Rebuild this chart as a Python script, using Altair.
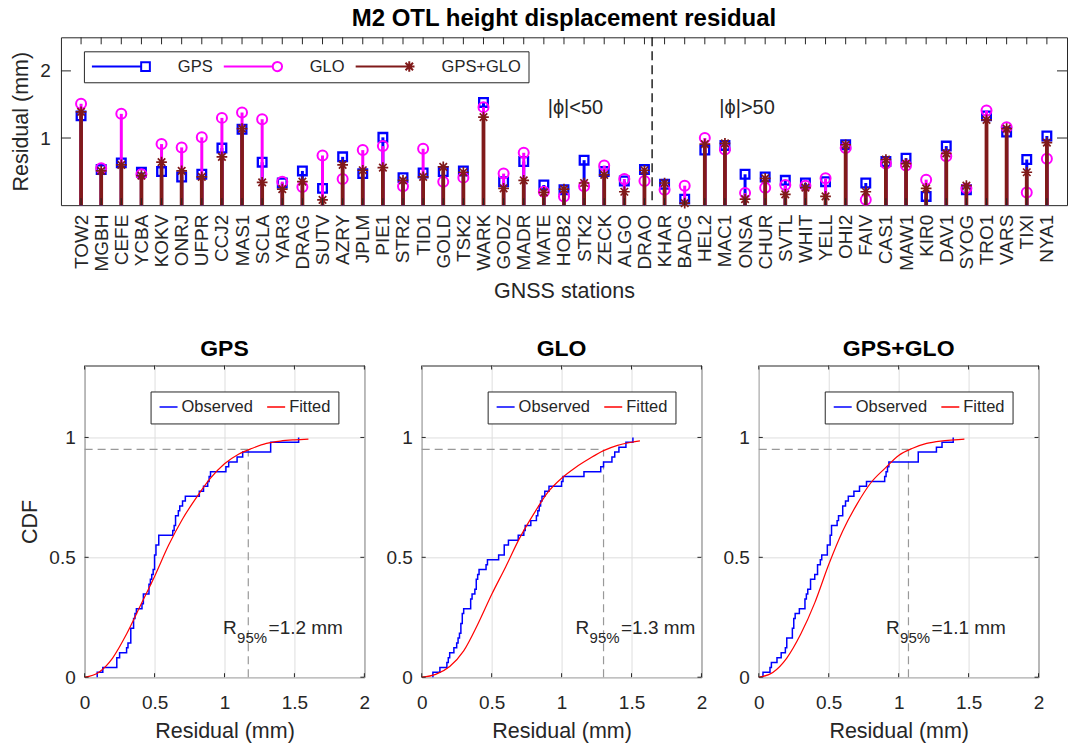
import altair as alt
import pandas as pd

# ---------------- data ----------------
STATIONS = ["TOW2", "MGBH", "CEFE", "YCBA", "KOKV", "ONRJ", "UFPR", "CCJ2", "MAS1", "SCLA",
            "YAR3", "DRAG", "SUTV", "AZRY", "JPLM", "PIE1", "STR2", "TID1", "GOLD", "TSK2",
            "WARK", "GODZ", "MADR", "MATE", "HOB2", "STK2", "ZECK", "ALGO", "DRAO", "KHAR",
            "BADG", "HEL2", "MAC1", "ONSA", "CHUR", "SVTL", "WHIT", "YELL", "OHI2", "FAIV",
            "CAS1", "MAW1", "KIR0", "DAV1", "SYOG", "TRO1", "VARS", "TIXI", "NYA1"]

GPS = [1.33, 0.53, 0.63, 0.49, 0.50, 0.42, 0.46, 0.85, 1.13, 0.64,
       0.33, 0.51, 0.25, 0.72, 0.47, 1.01, 0.41, 0.48, 0.50, 0.51,
       1.53, 0.35, 0.65, 0.30, 0.23, 0.67, 0.50, 0.36, 0.53, 0.31,
       0.09, 0.82, 0.89, 0.46, 0.42, 0.37, 0.33, 0.35, 0.90, 0.33,
       0.65, 0.70, 0.13, 0.88, 0.23, 1.33, 1.09, 0.68, 1.03]
GLO = [1.51, 0.55, 1.36, 0.46, 0.91, 0.86, 1.01, 1.30, 1.38, 1.28,
       0.35, 0.27, 0.74, 0.39, 0.82, 0.88, 0.28, 0.84, 0.35, 0.41,
       1.46, 0.47, 0.78, 0.20, 0.13, 0.28, 0.59, 0.39, 0.36, 0.23,
       0.29, 1.00, 0.83, 0.18, 0.26, 0.30, 0.29, 0.40, 0.85, 0.08,
       0.62, 0.59, 0.38, 0.73, 0.25, 1.41, 1.16, 0.19, 0.69]
GPS_GLO = [1.39, 0.51, 0.60, 0.44, 0.64, 0.51, 0.42, 0.72, 1.14, 0.34,
           0.24, 0.35, 0.08, 0.60, 0.52, 0.56, 0.37, 0.42, 0.57, 0.49,
           1.31, 0.25, 0.37, 0.19, 0.24, 0.33, 0.45, 0.20, 0.52, 0.33,
           0.03, 0.91, 0.92, 0.09, 0.40, 0.16, 0.26, 0.13, 0.90, 0.20,
           0.68, 0.62, 0.25, 0.77, 0.29, 1.27, 1.14, 0.49, 0.93]

SERIES = ["GPS", "GLO", "GPS+GLO"]

# fitted CDF curves
GPS_FIT_X = [0, 0.1, 0.2, 0.3, 0.4, 0.5, 0.6, 0.7, 0.8, 0.9, 1.0, 1.1, 1.2, 1.3, 1.4, 1.5, 1.6]
GPS_FIT_Y = [0, 0.02, 0.08, 0.18, 0.30, 0.42, 0.55, 0.66, 0.75, 0.83, 0.89, 0.93, 0.955, 0.975, 0.985, 0.99, 0.993]
GLO_FIT_X = [0, 0.1, 0.2, 0.3, 0.4, 0.5, 0.6, 0.7, 0.8, 0.9, 1.0, 1.1, 1.2, 1.3, 1.4, 1.5, 1.56]
GLO_FIT_Y = [0, 0.012, 0.045, 0.11, 0.22, 0.345, 0.46, 0.58, 0.68, 0.77, 0.83, 0.875, 0.912, 0.945, 0.967, 0.98, 0.986]
GG_FIT_X = [0, 0.1, 0.2, 0.3, 0.4, 0.5, 0.6, 0.7, 0.8, 0.9, 1.0, 1.1, 1.2, 1.3, 1.4, 1.47]
GG_FIT_Y = [0, 0.02, 0.08, 0.18, 0.31, 0.47, 0.61, 0.72, 0.81, 0.87, 0.925, 0.955, 0.975, 0.985, 0.99, 0.993]

R95 = [1.17, 1.30, 1.07]
R95_TEXT = ["=1.2 mm", "=1.3 mm", "=1.1 mm"]

# annotation anchors (data units)
SPLIT_X = 29.38
PHI_TEXT = ["|\u03d5|<50", "|\u03d5|>50"]
PHI_X = [25.57, 34.1]
PHI_Y = 1.44
R_TEXT_X = [0.99, 1.10, 0.91]
R_TEXT_Y = 0.18

# ---------------- styling ----------------
FONT = "Liberation Sans"
AX = "#262626"
COLORS = ["#0000FF", "#FF00FF", "#801A1A"]
W_TOP, H_TOP = 1007, 168
W_B, H_B = 280, 312

ASTERISK = "M0,-1L0,1M-1,0L1,0M-0.7,-0.7L0.7,0.7M-0.7,0.7L0.7,-0.7"
LEG_PATHS = [
    "M-1,0L0.7,0M0.7,-0.15L1,-0.15L1,0.15L0.7,0.15Z",
    "M-1,0L0.69,0M0.69,0A0.16,0.16,0,1,1,1.01,0A0.16,0.16,0,1,1,0.69,0Z",
    "M-1,0L0.85,0M0.85,-0.18L0.85,0.18M0.67,0L1.03,0M0.72,-0.13L0.98,0.13M0.72,0.13L0.98,-0.13",
]

rows = []
for name, vals in zip(SERIES, [GPS, GLO, GPS_GLO]):
    for i, (st, v) in enumerate(zip(STATIONS, vals)):
        rows.append({"idx": i + 1, "station": st, "series": name, "value": v})
df = pd.DataFrame(rows)
st_df = pd.DataFrame({"idx": list(range(1, len(STATIONS) + 1)), "station": STATIONS})
one = pd.DataFrame({"k": [0]})

label_expr = "[" + ",".join(["''"] + ["'%s'" % s for s in STATIONS]) + "][datum.value]"

# ---------------- top panel ----------------
xs_top = alt.Scale(domain=[0, len(STATIONS) + 1], nice=False, zero=False)
xa_top = alt.Axis(values=list(range(1, len(STATIONS) + 1)), labelExpr=label_expr, labelAngle=270,
                  labelFontSize=19, labelPadding=9, labelColor=AX, labelFont=FONT,
                  labelOverlap=False, labelFlush=False, ticks=False, tickSize=0,
                  domain=False, grid=False, title="GNSS stations", titleFontSize=21.5,
                  titleFontWeight="normal", titleColor=AX, titleFont=FONT, titlePadding=9)
X_TOP = alt.X("idx:Q", scale=xs_top, axis=xa_top)
ys_top = alt.Scale(domain=[0, 2.5], nice=False, zero=False)
ya_top = alt.Axis(values=[1, 2], labelFontSize=19, labelPadding=10.7, labelColor=AX, labelFont=FONT,
                  ticks=False, tickSize=0, domain=False, grid=False, title="Residual (mm)",
                  titleFontSize=21.5, titleFontWeight="normal", titleColor=AX, titleFont=FONT,
                  titlePadding=7.2)
Y_TOP = alt.Y("value:Q", scale=ys_top, axis=ya_top)

top_layers = []
top_layers.append(
    alt.Chart(one).mark_rule(color="black", strokeWidth=1.3, strokeDash=[9, 5]).encode(
        x=alt.XDatum(SPLIT_X, type="quantitative", scale=xs_top, axis=xa_top),
        y=alt.value(0), y2=alt.value(H_TOP)))
phi_df = pd.DataFrame({"idx": PHI_X, "value": [PHI_Y, PHI_Y], "txt": PHI_TEXT})
top_layers.append(
    alt.Chart(phi_df).mark_text(fontSize=20, font=FONT, color=AX, align="center", baseline="middle").encode(
        x=X_TOP, y=Y_TOP, text="txt:N"))

marker_specs = [("square", 75, 2.3, 3.0), ("circle", 100, 2.0, 3.0), (ASTERISK, 115, 1.7, 3.8)]
for name, col, (shape, size, sw, stem_w) in zip(SERIES, COLORS, marker_specs):
    base = alt.Chart(df).transform_filter(alt.datum.series == name)
    top_layers.append(base.mark_rule(color=col, strokeWidth=stem_w).encode(
        x=X_TOP, y=Y_TOP, y2=alt.datum(0)))
    top_layers.append(base.mark_point(shape=shape, filled=False, color=col, strokeWidth=sw,
                                      size=size, opacity=1).encode(x=X_TOP, y=Y_TOP))

# inward ticks
yt_df = pd.DataFrame({"value": [1, 2]})
top_layers.append(alt.Chart(st_df).mark_rule(color=AX, strokeWidth=1).encode(
    x=X_TOP, y=alt.value(0), y2=alt.value(7)))
top_layers.append(alt.Chart(st_df).mark_rule(color=AX, strokeWidth=1).encode(
    x=X_TOP, y=alt.value(H_TOP), y2=alt.value(H_TOP - 7)))
top_layers.append(alt.Chart(yt_df).mark_rule(color=AX, strokeWidth=1).encode(
    y=Y_TOP, x=alt.value(0), x2=alt.value(10)))
top_layers.append(alt.Chart(yt_df).mark_rule(color=AX, strokeWidth=1).encode(
    y=Y_TOP, x=alt.value(W_TOP), x2=alt.value(W_TOP - 10)))

top_legend = alt.Legend(title=None, orient="none", legendX=23, legendY=14, direction="horizontal",
                        strokeColor=AX, fillColor="white", padding=7, labelFontSize=16.5,
                        labelFont=FONT, labelColor=AX, symbolSize=3364, symbolStrokeWidth=2,
                        clipHeight=16, columnPadding=10, labelOffset=27, symbolOpacity=1)
top_layers.append(
    alt.Chart(df).transform_filter("datum.idx < 0").mark_point(filled=False, opacity=1, strokeWidth=2,
                                                               size=3364).encode(
        x=X_TOP, y=Y_TOP,
        color=alt.Color("series:N", scale=alt.Scale(domain=SERIES, range=COLORS), legend=top_legend),
        shape=alt.Shape("series:N", scale=alt.Scale(domain=SERIES, range=LEG_PATHS), legend=top_legend)))

top = alt.layer(*top_layers).properties(
    width=W_TOP, height=H_TOP,
    title=alt.TitleParams("M2 OTL height displacement residual", fontSize=24, fontWeight="bold",
                          font=FONT, color="black", offset=6, anchor="middle"))


# ---------------- CDF panels ----------------
def cdf_panel(i, fit_x, fit_y, first):
    name = SERIES[i]
    xs = alt.Scale(domain=[0, 2], nice=False, zero=False)
    ys = alt.Scale(domain=[0, 1.3], nice=False, zero=False)
    xa = alt.Axis(values=[0, 0.5, 1, 1.5, 2], format="~g", labelFontSize=19, labelPadding=16,
                  labelColor=AX, labelFont=FONT, labelFlush=False, ticks=False, tickSize=0,
                  domain=False, grid=True, gridColor="#dedede", gridWidth=1,
                  title="Residual (mm)", titleFontSize=21.5, titleFontWeight="normal",
                  titleColor=AX, titleFont=FONT, titlePadding=8)
    ya = alt.Axis(values=[0, 0.5, 1], format="~g", labelFontSize=19, labelPadding=9.4,
                  labelColor=AX, labelFont=FONT, ticks=False, tickSize=0, domain=False,
                  grid=True, gridColor="#dedede", gridWidth=1,
                  title="CDF" if first else None, titleFontSize=21.5, titleFontWeight="normal",
                  titleColor=AX, titleFont=FONT, titlePadding=7.5)
    leg = alt.Legend(title=None, orient="none", legendX=66, legendY=26, direction="horizontal",
                     symbolType="stroke", symbolSize=324, symbolStrokeWidth=1.5, strokeColor=AX,
                     fillColor="white", padding=8, labelFontSize=16.5, labelOffset=3,
                     columnPadding=12.7, clipHeight=15, labelColor=AX, labelFont=FONT)
    cs = alt.Scale(domain=["Observed", "Fitted"], range=["#0000FF", "#FF0000"])
    X = alt.X("value:Q", scale=xs, axis=xa)
    Y = alt.Y("cdf:Q", scale=ys, axis=ya)

    def XD(v):
        return alt.XDatum(v, type="quantitative", scale=xs, axis=xa)

    def YD(v):
        return alt.YDatum(v, type="quantitative", scale=ys, axis=ya)

    r95 = R95[i]
    layers = [
        alt.Chart(one).mark_rule(color="#999999", strokeWidth=1.2, strokeDash=[8, 5]).encode(
            x=XD(0), x2=alt.datum(r95), y=YD(0.95)),
        alt.Chart(one).mark_rule(color="#999999", strokeWidth=1.2, strokeDash=[8, 5]).encode(
            x=XD(r95), y=YD(0), y2=alt.datum(0.95)),
    ]
    obs = (alt.Chart(df).transform_filter(alt.datum.series == name)
           .transform_window(k="row_number()", sort=[alt.SortField("value", order="ascending")])
           .transform_joinaggregate(n="count()")
           .transform_calculate(lo="(datum.k - 1) / datum.n", hi="datum.k / datum.n")
           .transform_fold(["lo", "hi"], as_=["edge", "cdf"])
           .transform_calculate(ord="2 * datum.k + (datum.edge == 'hi' ? 1 : 0)", kind="'Observed'")
           .mark_line(strokeWidth=1.5)
           .encode(x=X, y=Y, order="ord:Q", color=alt.Color("kind:N", scale=cs, legend=leg)))
    fit_df = pd.DataFrame({"value": fit_x, "cdf": fit_y, "kind": ["Fitted"] * len(fit_x)})
    fit = alt.Chart(fit_df).mark_line(strokeWidth=1.2, interpolate="monotone").encode(
        x=X, y=Y, color=alt.Color("kind:N", scale=cs, legend=leg))
    layers += [obs, fit]
    rx = R_TEXT_X[i]
    layers.append(alt.Chart(one).mark_text(text="R", fontSize=19, font=FONT, color=AX, align="left",
                                           baseline="alphabetic").encode(x=XD(rx), y=YD(R_TEXT_Y)))
    layers.append(alt.Chart(one).mark_text(text="95%", fontSize=15, font=FONT, color=AX, align="left",
                                           baseline="alphabetic", dx=14, dy=9).encode(
        x=XD(rx), y=YD(R_TEXT_Y)))
    layers.append(alt.Chart(one).mark_text(text=R95_TEXT[i], fontSize=19, font=FONT, color=AX,
                                           align="left", baseline="alphabetic", dx=45.5).encode(
        x=XD(rx), y=YD(R_TEXT_Y)))
    xt = pd.DataFrame({"value": [0, 0.5, 1, 1.5, 2]})
    yt = pd.DataFrame({"cdf": [0, 0.5, 1]})
    layers.append(alt.Chart(xt).mark_rule(color=AX, strokeWidth=1).encode(x=X, y=alt.value(0), y2=alt.value(4)))
    layers.append(alt.Chart(xt).mark_rule(color=AX, strokeWidth=1).encode(x=X, y=alt.value(H_B), y2=alt.value(H_B - 4)))
    layers.append(alt.Chart(yt).mark_rule(color=AX, strokeWidth=1).encode(y=Y, x=alt.value(0), x2=alt.value(4)))
    layers.append(alt.Chart(yt).mark_rule(color=AX, strokeWidth=1).encode(y=Y, x=alt.value(W_B), x2=alt.value(W_B - 4)))
    return alt.layer(*layers).properties(
        width=W_B, height=H_B,
        title=alt.TitleParams(name, fontSize=23, fontWeight="bold", font=FONT, color="black",
                              offset=4, anchor="middle"))


panels = [cdf_panel(0, GPS_FIT_X, GPS_FIT_Y, True),
          cdf_panel(1, GLO_FIT_X, GLO_FIT_Y, False),
          cdf_panel(2, GG_FIT_X, GG_FIT_Y, False)]
bottom = alt.hconcat(*panels, spacing=14.4).resolve_scale(color="independent").resolve_legend(color="independent")

chart = (alt.vconcat(top, bottom, spacing=35.5, center=True)
         .resolve_scale(color="independent", shape="independent")
         .resolve_legend(color="independent", shape="independent")
         .properties(padding={"left": 10, "top": 5, "right": 0, "bottom": 0})
         .configure(font=FONT)
         .configure_view(stroke=AX, strokeWidth=1))

chart.save("out.html", embed_options={"renderer": "svg", "actions": False})
